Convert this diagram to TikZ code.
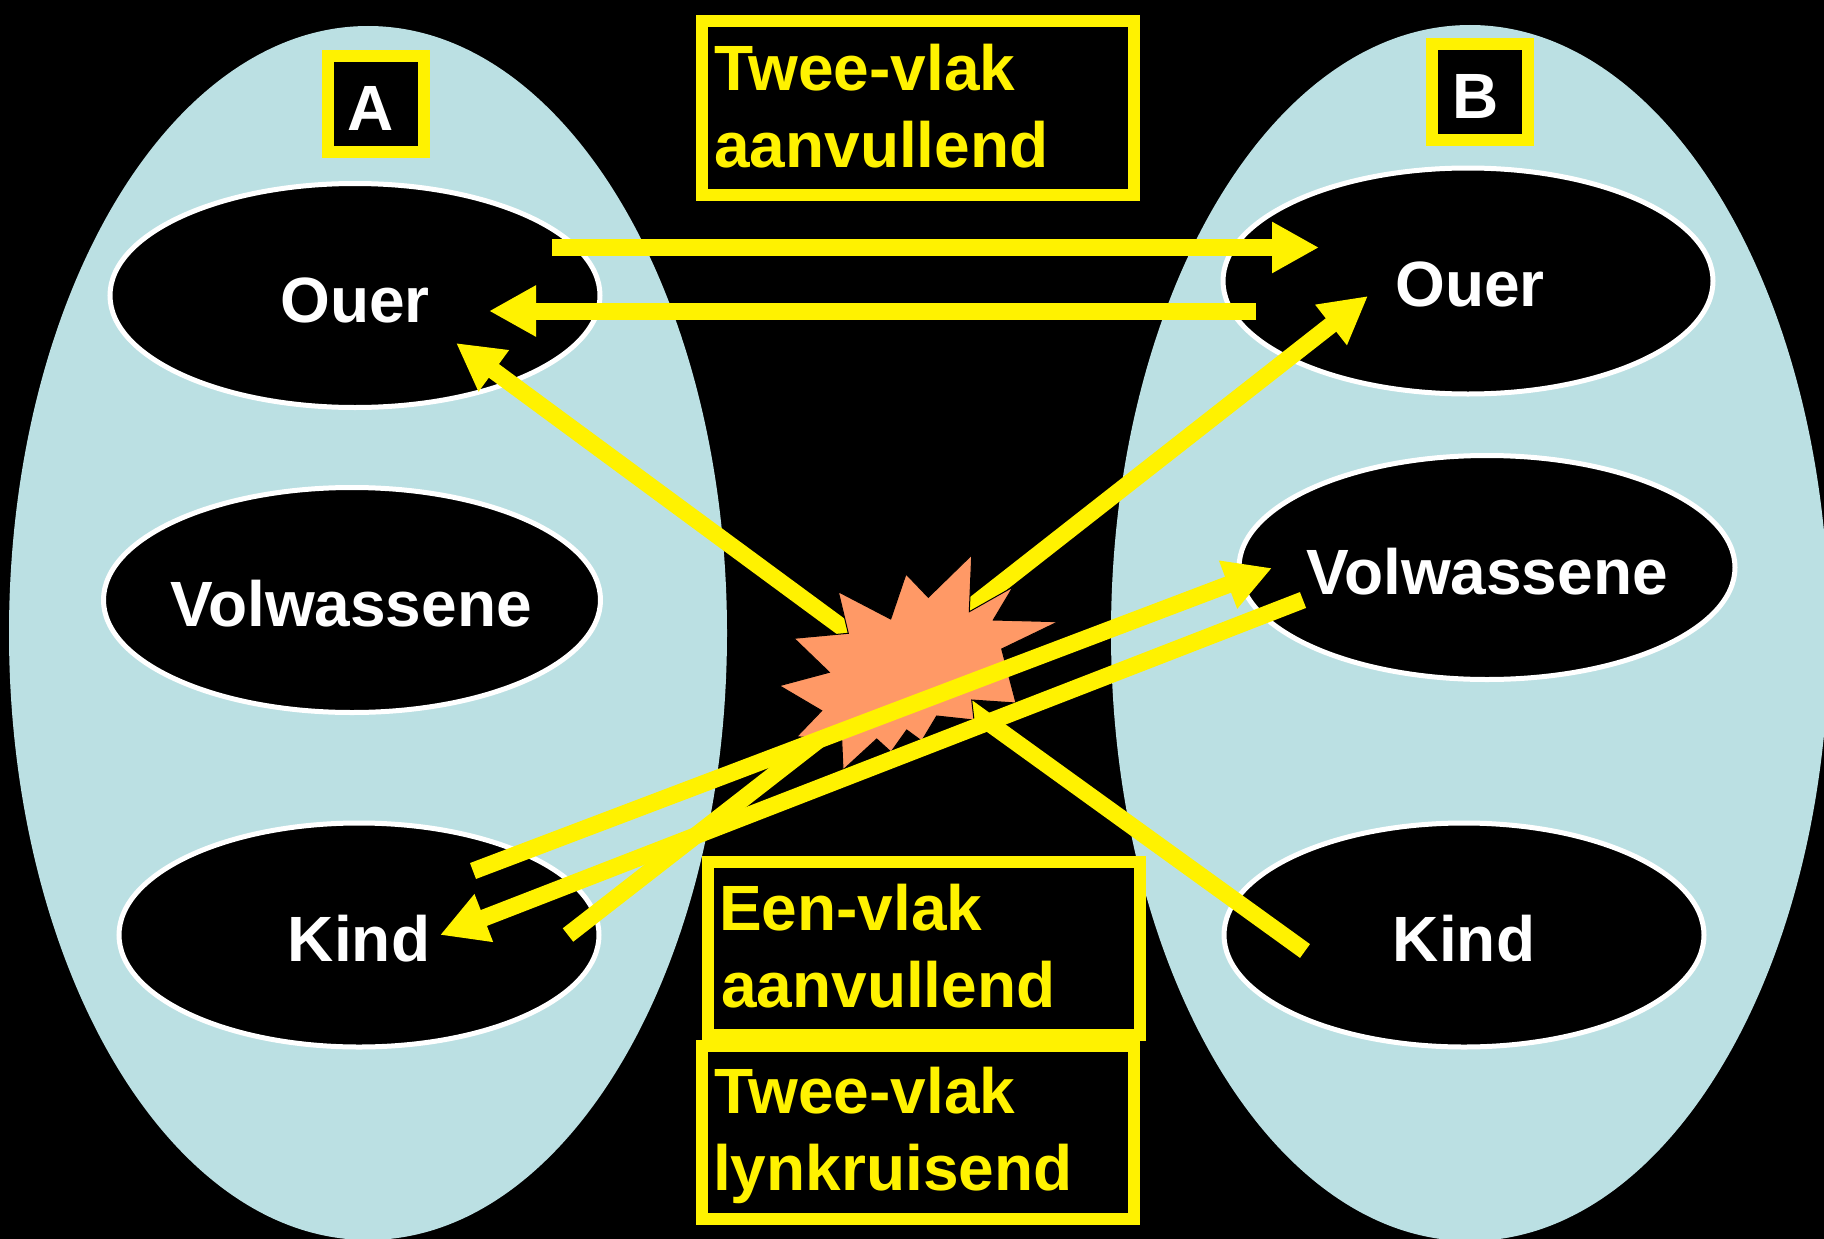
\documentclass[tikz,border=0pt]{standalone}
\usepackage{fontspec}
\setmainfont{Liberation Sans}
\usetikzlibrary{shapes.geometric,arrows.meta}
\definecolor{lblue}{RGB}{187,224,227}
\definecolor{boom}{RGB}{255,153,102}
\newcommand\bigfnt{\fontsize{64}{75}\selectfont\bfseries}
\begin{document}
\begin{tikzpicture}[x=1pt,y=-1pt,
  bigell/.style={ellipse,fill=lblue,draw=none,inner sep=0pt},
  roleell/.style={ellipse,fill=black,draw=white,line width=5pt,inner sep=0pt},
  lbl/.style={text=white,font=\bigfnt,inner sep=0pt,anchor=base},
  ylbl/.style={text=yellow,font=\bigfnt,inner sep=0pt,anchor=base west},
  ybox/.style={draw=yellow,fill=black,line width=12pt,inner sep=0pt,anchor=north west},
  letterbox/.style={draw=yellow,fill=black,line width=12pt,inner sep=0pt,minimum width=96pt,minimum height=96pt},
  yarrow/.style={draw=yellow,line width=17pt,-{Triangle[length=47pt,width=48pt]}},
  yline/.style={draw=yellow,line width=17pt},
  boomstyle/.style={fill=boom,draw=black,line width=1pt}]
\useasboundingbox (0,0) rectangle (1824,1239);
\fill[black] (0,0) rectangle (1824,1239);
% big ellipses
\node[bigell,minimum width=718pt,minimum height=1214pt] (bigA) at (368,633) {};
\node[bigell,minimum width=718pt,minimum height=1216pt] (bigB) at (1470,633) {};
% role ellipses
\node[roleell,minimum width=490pt,minimum height=224pt] (aouer) at (355,295.5) {};
\node[roleell,minimum width=497pt,minimum height=225pt] (avolw) at (352,600) {};
\node[roleell,minimum width=480pt,minimum height=224pt] (akind) at (359,935) {};
\node[roleell,minimum width=490pt,minimum height=226pt] (bouer) at (1468,281) {};
\node[roleell,minimum width=496pt,minimum height=224pt] (bvolw) at (1487,567.5) {};
\node[roleell,minimum width=480pt,minimum height=224pt] (bkind) at (1464,935) {};
\node[lbl] (taouer) at (355,322) {Ouer};
\node[lbl] (tavolw) at (351,626) {Volwassene};
\node[lbl] (takind) at (359,961) {Kind};
\node[lbl] (tbouer) at (1470,306) {Ouer};
\node[lbl] (tbvolw) at (1487,594) {Volwassene};
\node[lbl] (tbkind) at (1464,961) {Kind};
% letter boxes
\node[letterbox] (boxA) at (376,104) {};
\node[lbl] (tA) at (371,130) {A};
\node[letterbox] (boxB) at (1480,92) {};
\node[lbl] (tB) at (1476,118) {B};
% text boxes
\node[ybox,minimum width=432pt,minimum height=173.5pt] (box1) at (696,15) {};
\node[ylbl] (t1a) at (714,90) {Twee-vlak};
\node[ylbl] (t1b) at (714,167) {aanvullend};
\node[ybox,minimum width=432pt,minimum height=173pt] (box2) at (702,856) {};
\node[ylbl] (t2a) at (719,930) {Een-vlak};
\node[ylbl] (t2b) at (721,1007) {aanvullend};
\node[ybox,minimum width=432pt,minimum height=173pt] (box3) at (696,1039.5) {};
\node[ylbl] (t3a) at (714,1113) {Twee-vlak};
\node[ylbl] (t3b) at (713,1190) {lynkruisend};
% connector end points
\coordinate (h1s) at (552,247.5);
\coordinate (h1e) at (1319,247.5);
\coordinate (h2s) at (1256,311);
\coordinate (h2e) at (489,311);
\coordinate (oas) at (866,645);
\coordinate (oae) at (456,343);
\coordinate (obs) at (943,629);
\coordinate (obe) at (1368,296);
\coordinate (kas) at (568,935);
\coordinate (kae) at (825,735);
\coordinate (kbs) at (1305,951);
\coordinate (kbe) at (960,702);
\coordinate (v1s) at (473,871);
\coordinate (v1e) at (1272,568);
\coordinate (v2s) at (1303,600);
\coordinate (v2e) at (440,935);
% connectors under the explosion
\draw[yarrow] (oas) -- (oae);
\draw[yarrow] (obs) -- (obe);
\draw[yline] (kas) -- (kae);
\draw[yline] (kbs) -- (kbe);
% explosion
\draw[boomstyle] (971.7,555) -- (969.3,611.7) -- (1013,587) -- (993.3,620) -- (1058.3,621.7)
  -- (1001.7,649) -- (1016,703) -- (971.7,700) -- (974,720) -- (936.7,716) -- (921.7,741)
  -- (906.7,730) -- (891,752) -- (876.7,739) -- (843,770) -- (841.7,740) -- (796.7,736.7)
  -- (821.7,710.7) -- (779.3,685.7) -- (829.3,672.3) -- (794,638.3) -- (848.3,633.3)
  -- (838.3,591.7) -- (890.7,619) -- (906,574) -- (928.3,597.3) -- cycle;
% connectors on top
\draw[yarrow] (v1s) -- (v1e);
\draw[yarrow] (v2s) -- (v2e);
\draw[yarrow] (h1s) -- (h1e);
\draw[yarrow] (h2s) -- (h2e);
\end{tikzpicture}
\end{document}
